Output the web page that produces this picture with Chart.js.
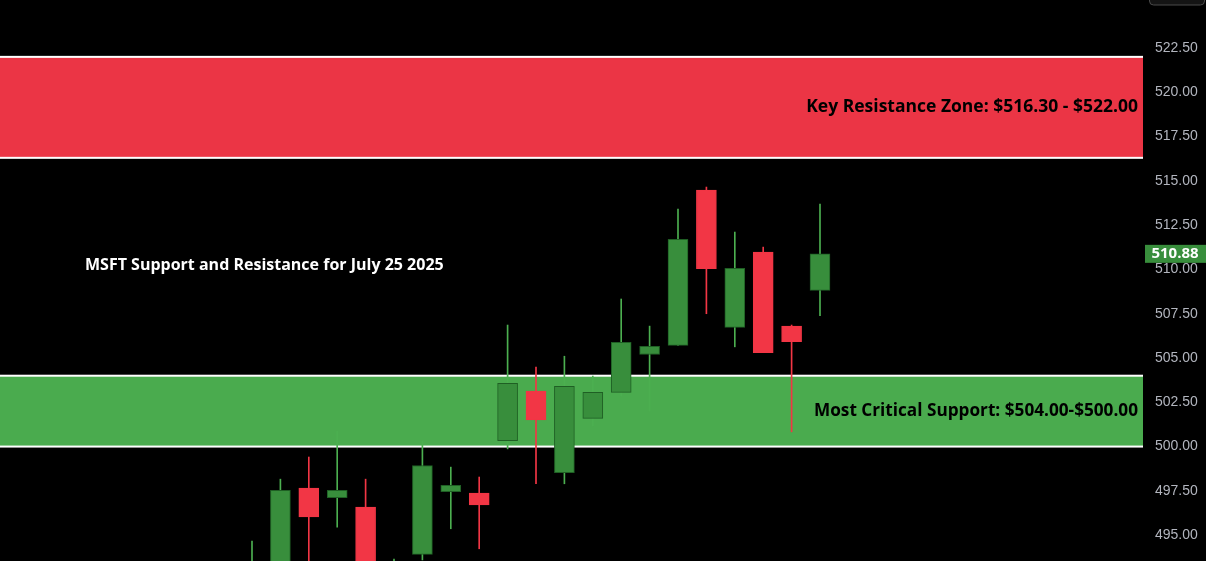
<!DOCTYPE html>
<html>
<head>
<meta charset="utf-8">
<script src="https://cdn.jsdelivr.net/npm/chart.js@4.4.1/dist/chart.umd.min.js"></script>
<style>
  html, body { margin: 0; padding: 0; background: #000; }
  #wrap { width: 1206px; height: 561px; position: relative; }
</style>
</head>
<body>
<div id="wrap"><canvas id="chart-area"></canvas></div>
<script>
// daily candles, left to right
var opens  = [491.5, 492.8, 497.66, 497.11, 496.58, 491.5, 493.91, 497.45, 497.37, 500.33, 503.13, 498.52, 501.59, 503.06, 505.2, 505.71, 514.48, 506.73, 510.98, 506.8, 508.82];
var highs  = [494.66, 498.16, 499.41, 500.87, 498.16, 493.65, 500.3, 498.84, 498.28, 506.86, 504.49, 505.1, 503.98, 508.33, 506.8, 513.41, 514.65, 512.11, 511.26, 506.86, 513.69];
var lows   = [491.0, 492.3, 492.6, 495.45, 492.4, 491.0, 493.6, 495.36, 494.23, 499.87, 497.9, 497.9, 501.16, 502.85, 502.0, 505.71, 507.5, 505.63, 505.3, 500.83, 507.39];
var closes = [493.2, 497.53, 496.03, 497.53, 493.1, 493.2, 498.93, 497.81, 496.71, 503.57, 501.51, 503.4, 503.06, 505.88, 505.66, 511.7, 510.04, 510.06, 505.3, 505.92, 510.88];

var zoneLow  = [516.30, 500.00];
var zoneHigh = [522.00, 504.00];
var zoneText = ["Key Resistance Zone: $516.30 - $522.00", "Most Critical Support: $504.00-$500.00"];
var titleText = "MSFT Support and Resistance for July 25 2025";
var tickValues = [495, 497.5, 500, 502.5, 505, 507.5, 510, 512.5, 515, 517.5, 520, 522.5];
var lastPrice = closes[closes.length - 1];

var upBody = "#388e3c", upEdge = "#1f5f24", upWick = "#4caf50";
var dnBody = "#f23645", dnWick = "#f23645";

var bodies = [], wicks = [], bodyFill = [], bodyEdge = [], wickCol = [];
for (var i = 0; i < opens.length; i++) {
    var up = closes[i] >= opens[i];
    bodies.push({x: i, y: [opens[i], closes[i]]});
    wicks.push({x: i, y: [lows[i], highs[i]]});
    bodyFill.push(up ? upBody : dnBody);
    bodyEdge.push(up ? upEdge : dnBody);
    wickCol.push(up ? upWick : dnWick);
}

var zonePlugin = {
    id: 'zones',
    beforeDatasetsDraw: function(chart) {
        var c = chart.ctx, a = chart.chartArea, ys = chart.scales.y;
        var fills = ["#eb3545", "#4aab4e"];
        c.save();
        for (var k = 0; k < zoneLow.length; k++) {
            var top = ys.getPixelForValue(zoneHigh[k]);
            var bot = ys.getPixelForValue(zoneLow[k]);
            c.fillStyle = fills[k];
            c.fillRect(a.left, top, a.right - a.left, bot - top);
            c.fillStyle = "#ffffff";
            c.fillRect(a.left, top - 1, a.right - a.left, 2);
            c.fillRect(a.left, bot - 1, a.right - a.left, 2);
        }
        c.restore();
    },
    afterDatasetsDraw: function(chart) {
        var c = chart.ctx, a = chart.chartArea, ys = chart.scales.y;
        c.save();
        c.textBaseline = "middle";
        c.textAlign = "right";
        c.fillStyle = "#000000";
        var sizes = [17.5, 17.2];
        for (var k = 0; k < zoneLow.length; k++) {
            c.font = "bold " + sizes[k] + "px 'Open Sans', sans-serif";
            var mid = ys.getPixelForValue((zoneLow[k] + zoneHigh[k]) / 2);
            c.fillText(zoneText[k], a.right - 5, mid);
        }
        c.font = "bold 16px 'Open Sans', sans-serif";
        c.textAlign = "left";
        c.fillStyle = "#ffffff";
        c.fillText(titleText, 85, ys.getPixelForValue(510.2));

        // last price tag on the axis
        var py = ys.getPixelForValue(lastPrice);
        c.fillStyle = upBody;
        c.fillRect(a.right + 2, py - 9, 61, 18);
        c.fillStyle = "#ffffff";
        c.font = "bold 15px 'Open Sans', sans-serif";
        c.textAlign = "center";
        c.fillText(lastPrice.toFixed(2), a.right + 32, py);

        // small button outline top right
        c.strokeStyle = "#4a4a4a";
        c.fillStyle = "#141414";
        c.lineWidth = 1;
        c.beginPath();
        c.roundRect(1149.5, -10, 55, 15, 4);
        c.fill();
        c.stroke();
        c.restore();
    }
};

var config = {
    type: 'bar',
    data: {
        datasets: [{
            label: 'wick',
            data: wicks,
            backgroundColor: wickCol,
            barThickness: 1,
            grouped: false,
            order: 2
        }, {
            label: 'body',
            data: bodies,
            backgroundColor: bodyFill,
            borderColor: bodyEdge,
            borderWidth: 1,
            borderSkipped: false,
            barThickness: 20,
            grouped: false,
            order: 1
        }]
    },
    options: {
        responsive: false,
        animation: false,
        layout: {padding: 0},
        plugins: {legend: {display: false}, tooltip: {enabled: false}},
        scales: {
            x: {
                type: 'linear',
                display: false,
                offset: false,
                min: -252 / 28.4,
                max: -252 / 28.4 + 1143 / 28.4
            },
            y: {
                position: 'right',
                min: 493.54,
                max: 525.21,
                grid: {display: false},
                border: {display: false},
                afterBuildTicks: function(scale) {
                    scale.ticks = tickValues.map(function(v) { return {value: v}; });
                },
                afterFit: function(scale) {
                    scale.width = 63;
                    scale.paddingTop = 0;
                    scale.paddingBottom = 0;
                },
                ticks: {
                    color: "#b2b5be",
                    padding: 4,
                    font: {family: "'Liberation Sans', sans-serif", size: 14},
                    callback: function(v) { return Number(v).toFixed(2); }
                }
            }
        }
    },
    plugins: [zonePlugin]
};

window.onload = function() {
    var cv = document.getElementById("chart-area");
    cv.width = 1206;
    cv.height = 561;
    window.myCandles = new Chart(cv.getContext("2d"), config);
};
</script>
</body>
</html>
